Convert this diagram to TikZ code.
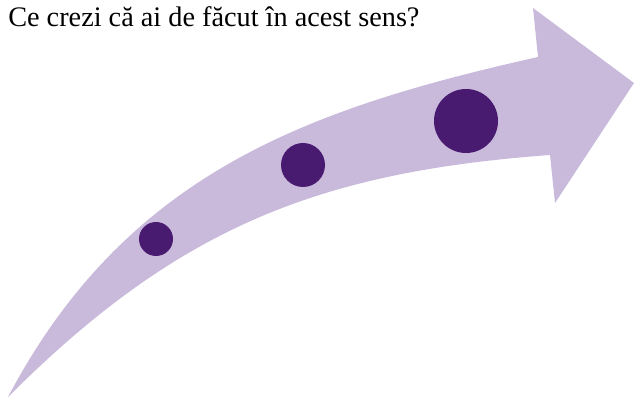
\documentclass[tikz,border=0pt]{standalone}
\usepackage{fontspec}
\setmainfont{Liberation Serif}
\usepackage{tikz}
\usepackage{xcolor}
\definecolor{senslight}{RGB}{201,186,220}
\definecolor{sensdark}{RGB}{72,26,112}

\begin{document}
\begin{tikzpicture}[x=0.75pt, y=-0.75pt, dot/.style={fill=sensdark}, every node/.style={font=\fontsize{21.2}{24}\selectfont}]
\useasboundingbox (0,0) rectangle (634,398);
% curved arrow
\fill[senslight] (8,397) .. controls (126,174) and (306,109) .. (538,57)
  -- (533,8) -- (634,83) -- (555,203) -- (550,155)
  .. controls (319,172) and (178,227) .. (8,397) -- cycle;
% dots
\fill[dot] (156,239) circle (17);
\fill[dot] (303,165) circle (22);
\fill[dot] (466,121) circle (32);
\node[anchor=base west, inner sep=0pt] (title) at (8,26.5) {Ce crezi că ai de făcut în acest sens?};
\end{tikzpicture}
\end{document}
